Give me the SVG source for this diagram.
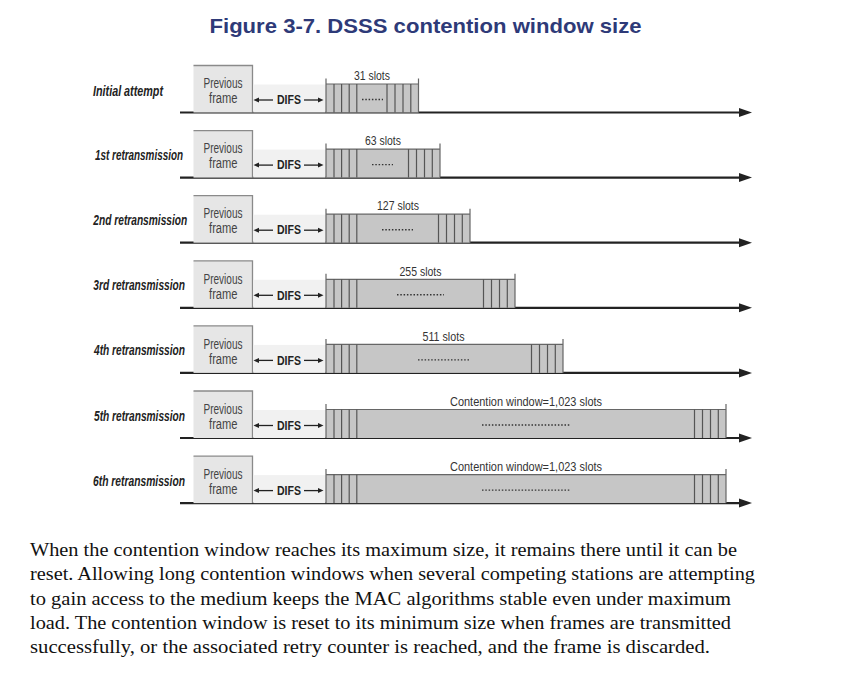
<svg xmlns="http://www.w3.org/2000/svg" width="862" height="678" viewBox="0 0 862 678">
<defs>
<style>
.title{font-family:"Liberation Sans",Arial,sans-serif;font-weight:bold;font-size:20.5px;fill:#2e3a78}
.lbl{font-family:"Liberation Sans Narrow","Liberation Sans",sans-serif;font-weight:bold;font-style:italic;font-size:14px;fill:#222}
.cn{font-family:"Liberation Sans Narrow","Liberation Sans",sans-serif;font-size:13.5px;fill:#333;text-anchor:middle}
.pf{font-family:"Liberation Sans Narrow","Liberation Sans",sans-serif;font-size:14px;fill:#444;text-anchor:middle}
.difs{font-family:"Liberation Sans Narrow","Liberation Sans",sans-serif;font-weight:bold;font-size:13px;fill:#222;text-anchor:middle}
.para{font-family:"Liberation Serif","Times New Roman",serif;font-size:19.5px;fill:#111}
.box{fill:#e6e6e6}
.boxedge{fill:none;stroke:#8a8a8a;stroke-width:1.3}
.difsbg{fill:#f1f1f1}
.blk{fill:#c6c6c6}
.blkedge{fill:none;stroke:#666;stroke-width:1.2}
.slot{stroke:#555;stroke-width:1.2}
.dots{stroke:#333;stroke-width:1.4;stroke-dasharray:1.5 1.8}
.axis{stroke:#222;stroke-width:2.2}
.ah{fill:#222}
.sm{stroke:#222;stroke-width:1.3}
</style>
<g id="difsArrows">
<line class="sm" x1="257" y1="-12.5" x2="273" y2="-12.5"/>
<polygon class="ah" points="253.5,-12.5 259,-15 259,-10"/>
<line class="sm" x1="304" y1="-12.5" x2="320" y2="-12.5"/>
<polygon class="ah" points="323.5,-12.5 318,-15 318,-10"/>
</g>
<g id="prev">
<rect class="box" x="193.5" y="-47" width="59" height="47"/>
<path class="boxedge" d="M193.5,-47 H252.5 V0"/>
<rect class="difsbg" x="253.2" y="-28" width="72.5" height="28"/>
<text class="pf" x="223" y="-24.3" textLength="39" lengthAdjust="spacingAndGlyphs">Previous</text>
<text class="pf" x="223.3" y="-9.3" textLength="28.5" lengthAdjust="spacingAndGlyphs">frame</text>
<text class="difs" x="289" y="-8.3" textLength="24" lengthAdjust="spacingAndGlyphs">DIFS</text>
<use href="#difsArrows"/>
</g>
<g id="leftSlots">
<line class="slot" x1="334" y1="-28.5" x2="334" y2="0"/>
<line class="slot" x1="341.6" y1="-28.5" x2="341.6" y2="0"/>
<line class="slot" x1="349.2" y1="-28.5" x2="349.2" y2="0"/>
<line class="slot" x1="356.8" y1="-28.5" x2="356.8" y2="0"/>
</g>
</defs>

<text class="title" x="425.5" y="33" text-anchor="middle" textLength="432" lengthAdjust="spacingAndGlyphs">Figure 3-7. DSSS contention window size</text>

<g id="connectors">
<g transform="translate(0,112.5)"><line class="axis" x1="180" y1="0" x2="742" y2="0"/><polygon class="ah" points="739,-4.5 752,0 739,4.5"/></g>
<g transform="translate(0,177.6)"><line class="axis" x1="180" y1="0" x2="742" y2="0"/><polygon class="ah" points="739,-4.5 752,0 739,4.5"/></g>
<g transform="translate(0,242.7)"><line class="axis" x1="180" y1="0" x2="742" y2="0"/><polygon class="ah" points="739,-4.5 752,0 739,4.5"/></g>
<g transform="translate(0,307.8)"><line class="axis" x1="180" y1="0" x2="742" y2="0"/><polygon class="ah" points="739,-4.5 752,0 739,4.5"/></g>
<g transform="translate(0,372.9)"><line class="axis" x1="180" y1="0" x2="742" y2="0"/><polygon class="ah" points="739,-4.5 752,0 739,4.5"/></g>
<g transform="translate(0,438)"><line class="axis" x1="180" y1="0" x2="742" y2="0"/><polygon class="ah" points="739,-4.5 752,0 739,4.5"/></g>
<g transform="translate(0,503.1)"><line class="axis" x1="180" y1="0" x2="742" y2="0"/><polygon class="ah" points="739,-4.5 752,0 739,4.5"/></g>
</g>

<g id="row0" transform="translate(0,112.5)">
<text class="lbl" x="93" y="-17" textLength="70" lengthAdjust="spacingAndGlyphs">Initial attempt</text>
<use href="#prev"/>
<rect class="blk" x="326" y="-28.5" width="92.5" height="28.5"/>
<path class="blkedge" d="M326,-34 V0 M326,-28.5 H418.5 M418.5,-34 V0"/>
<use href="#leftSlots"/>
<line class="slot" x1="387" y1="-28.5" x2="387" y2="0"/><line class="slot" x1="395" y1="-28.5" x2="395" y2="0"/><line class="slot" x1="403" y1="-28.5" x2="403" y2="0"/><line class="slot" x1="410.8" y1="-28.5" x2="410.8" y2="0"/>
<line class="dots" x1="362" y1="-13" x2="383" y2="-13"/>
<text class="cn" x="372" y="-32.3" textLength="36" lengthAdjust="spacingAndGlyphs">31 slots</text>
</g>

<g id="row1" transform="translate(0,177.6)">
<text class="lbl" x="95" y="-18" textLength="88" lengthAdjust="spacingAndGlyphs">1st retransmission</text>
<use href="#prev"/>
<rect class="blk" x="326" y="-28.5" width="114" height="28.5"/>
<path class="blkedge" d="M326,-34 V0 M326,-28.5 H440 M440,-34 V0"/>
<use href="#leftSlots"/>
<line class="slot" x1="408.5" y1="-28.5" x2="408.5" y2="0"/><line class="slot" x1="416.5" y1="-28.5" x2="416.5" y2="0"/><line class="slot" x1="424.5" y1="-28.5" x2="424.5" y2="0"/><line class="slot" x1="432.3" y1="-28.5" x2="432.3" y2="0"/>
<line class="dots" x1="372" y1="-13" x2="393" y2="-13"/>
<text class="cn" x="383" y="-32.3" textLength="36" lengthAdjust="spacingAndGlyphs">63 slots</text>
</g>

<g id="row2" transform="translate(0,242.7)">
<text class="lbl" x="93.3" y="-17.5" textLength="94" lengthAdjust="spacingAndGlyphs">2nd retransmission</text>
<use href="#prev"/>
<rect class="blk" x="326" y="-28.5" width="144" height="28.5"/>
<path class="blkedge" d="M326,-34 V0 M326,-28.5 H470 M470,-34 V0"/>
<use href="#leftSlots"/>
<line class="slot" x1="438.5" y1="-28.5" x2="438.5" y2="0"/><line class="slot" x1="446.5" y1="-28.5" x2="446.5" y2="0"/><line class="slot" x1="454.5" y1="-28.5" x2="454.5" y2="0"/><line class="slot" x1="462.3" y1="-28.5" x2="462.3" y2="0"/>
<line class="dots" x1="382" y1="-13" x2="413" y2="-13"/>
<text class="cn" x="398" y="-32.3" textLength="42" lengthAdjust="spacingAndGlyphs">127 slots</text>
</g>

<g id="row3" transform="translate(0,307.8)">
<text class="lbl" x="93.3" y="-17.5" textLength="91.7" lengthAdjust="spacingAndGlyphs">3rd retransmission</text>
<use href="#prev"/>
<rect class="blk" x="326" y="-28.5" width="189" height="28.5"/>
<path class="blkedge" d="M326,-34 V0 M326,-28.5 H515 M515,-34 V0"/>
<use href="#leftSlots"/>
<line class="slot" x1="483.5" y1="-28.5" x2="483.5" y2="0"/><line class="slot" x1="491.5" y1="-28.5" x2="491.5" y2="0"/><line class="slot" x1="499.5" y1="-28.5" x2="499.5" y2="0"/><line class="slot" x1="507.3" y1="-28.5" x2="507.3" y2="0"/>
<line class="dots" x1="397" y1="-13" x2="444" y2="-13"/>
<text class="cn" x="420.5" y="-32.3" textLength="42" lengthAdjust="spacingAndGlyphs">255 slots</text>
</g>

<g id="row4" transform="translate(0,372.9)">
<text class="lbl" x="94" y="-17.5" textLength="91" lengthAdjust="spacingAndGlyphs">4th retransmission</text>
<use href="#prev"/>
<rect class="blk" x="326" y="-28.5" width="237" height="28.5"/>
<path class="blkedge" d="M326,-34 V0 M326,-28.5 H563 M563,-34 V0"/>
<use href="#leftSlots"/>
<line class="slot" x1="531.5" y1="-28.5" x2="531.5" y2="0"/><line class="slot" x1="539.5" y1="-28.5" x2="539.5" y2="0"/><line class="slot" x1="547.5" y1="-28.5" x2="547.5" y2="0"/><line class="slot" x1="555.3" y1="-28.5" x2="555.3" y2="0"/>
<line class="dots" x1="418" y1="-13" x2="469" y2="-13"/>
<text class="cn" x="443.5" y="-32.3" textLength="42" lengthAdjust="spacingAndGlyphs">511 slots</text>
</g>

<g id="row5" transform="translate(0,438)">
<text class="lbl" x="94" y="-17.5" textLength="91" lengthAdjust="spacingAndGlyphs">5th retransmission</text>
<use href="#prev"/>
<rect class="blk" x="326" y="-28.5" width="400" height="28.5"/>
<path class="blkedge" d="M326,-34 V0 M326,-28.5 H726 M726,-34 V0"/>
<use href="#leftSlots"/>
<line class="slot" x1="694.5" y1="-28.5" x2="694.5" y2="0"/><line class="slot" x1="702.5" y1="-28.5" x2="702.5" y2="0"/><line class="slot" x1="710.5" y1="-28.5" x2="710.5" y2="0"/><line class="slot" x1="718.3" y1="-28.5" x2="718.3" y2="0"/>
<line class="dots" x1="482" y1="-13" x2="570" y2="-13"/>
<text class="cn" x="526" y="-32.3" textLength="152" lengthAdjust="spacingAndGlyphs">Contention window=1,023 slots</text>
</g>

<g id="row6" transform="translate(0,503.1)">
<text class="lbl" x="93" y="-17.5" textLength="92" lengthAdjust="spacingAndGlyphs">6th retransmission</text>
<use href="#prev"/>
<rect class="blk" x="326" y="-28.5" width="400" height="28.5"/>
<path class="blkedge" d="M326,-34 V0 M326,-28.5 H726 M726,-34 V0"/>
<use href="#leftSlots"/>
<line class="slot" x1="694.5" y1="-28.5" x2="694.5" y2="0"/><line class="slot" x1="702.5" y1="-28.5" x2="702.5" y2="0"/><line class="slot" x1="710.5" y1="-28.5" x2="710.5" y2="0"/><line class="slot" x1="718.3" y1="-28.5" x2="718.3" y2="0"/>
<line class="dots" x1="482" y1="-13" x2="570" y2="-13"/>
<text class="cn" x="526" y="-32.3" textLength="152" lengthAdjust="spacingAndGlyphs">Contention window=1,023 slots</text>
</g>

<g id="paragraph">
<text class="para" x="30" y="556" textLength="707" lengthAdjust="spacingAndGlyphs">When the contention window reaches its maximum size, it remains there until it can be</text>
<text class="para" x="30" y="580.3" textLength="725" lengthAdjust="spacingAndGlyphs">reset. Allowing long contention windows when several competing stations are attempting</text>
<text class="para" x="30" y="604.6" textLength="701" lengthAdjust="spacingAndGlyphs">to gain access to the medium keeps the MAC algorithms stable even under maximum</text>
<text class="para" x="30" y="629" textLength="701" lengthAdjust="spacingAndGlyphs">load. The contention window is reset to its minimum size when frames are transmitted</text>
<text class="para" x="30" y="653.3" textLength="680" lengthAdjust="spacingAndGlyphs">successfully, or the associated retry counter is reached, and the frame is discarded.</text>
</g>
</svg>
